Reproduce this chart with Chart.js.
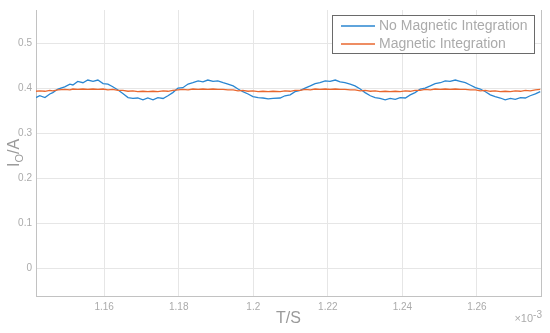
<!DOCTYPE html>
<html>
<head>
<meta charset="utf-8">
<script src="https://cdn.jsdelivr.net/npm/chart.js@4"></script>
<style>
	html, body { margin: 0; padding: 0; background: #fff; }
	#zone { width: 550px; height: 333px; }
</style>
</head>
<body>
<div id="zone"><canvas id="graphique-courant" width="550" height="333"></canvas></div>
<script>
// Temps (x 10^-3 s)
const temps = [
	1.1417, 1.1427, 1.1441, 1.1454, 1.1462, 1.1476, 1.1494, 1.1508, 1.1516, 1.1529,
	1.1543, 1.1556, 1.1570, 1.1583, 1.1597, 1.1610, 1.1623, 1.1637, 1.1650, 1.1664,
	1.1677, 1.1690, 1.1704, 1.1717, 1.1731, 1.1744, 1.1758, 1.1771, 1.1784, 1.1798,
	1.1811, 1.1825, 1.1838, 1.1852, 1.1865, 1.1878, 1.1892, 1.1905, 1.1919, 1.1932,
	1.1946, 1.1959, 1.1972, 1.1986, 1.1999, 1.2013, 1.2026, 1.2040, 1.2053, 1.2072,
	1.2085, 1.2099, 1.2112, 1.2126, 1.2139, 1.2153, 1.2166, 1.2179, 1.2193, 1.2206,
	1.2220, 1.2233, 1.2246, 1.2260, 1.2273, 1.2287, 1.2300, 1.2314, 1.2327, 1.2340,
	1.2354, 1.2367, 1.2381, 1.2394, 1.2408, 1.2421, 1.2434, 1.2448, 1.2461, 1.2475,
	1.2488, 1.2502, 1.2515, 1.2528, 1.2542, 1.2555, 1.2569, 1.2582, 1.2596, 1.2609,
	1.2623, 1.2636, 1.2649, 1.2663, 1.2676, 1.2690, 1.2703, 1.2717, 1.2730, 1.2743,
	1.2757, 1.2770
];

// Courant de sortie sans intégration magnétique (courbe bleue)
const sansIntegration = [
	0.380, 0.384, 0.380, 0.388, 0.391, 0.399, 0.404, 0.410, 0.408, 0.416,
	0.413, 0.419, 0.416, 0.419, 0.411, 0.410, 0.404, 0.397, 0.389, 0.380,
	0.378, 0.379, 0.375, 0.379, 0.375, 0.380, 0.378, 0.384, 0.391, 0.401,
	0.402, 0.410, 0.413, 0.417, 0.415, 0.419, 0.416, 0.417, 0.413, 0.410,
	0.406, 0.399, 0.393, 0.388, 0.382, 0.380, 0.379, 0.377, 0.378, 0.379,
	0.384, 0.386, 0.393, 0.396, 0.401, 0.406, 0.411, 0.413, 0.417, 0.416,
	0.419, 0.415, 0.413, 0.410, 0.406, 0.399, 0.391, 0.384, 0.380, 0.378,
	0.375, 0.378, 0.376, 0.380, 0.379, 0.386, 0.391, 0.399, 0.401, 0.406,
	0.411, 0.413, 0.417, 0.416, 0.419, 0.416, 0.413, 0.408, 0.402, 0.399,
	0.393, 0.386, 0.382, 0.379, 0.375, 0.378, 0.376, 0.380, 0.379, 0.384,
	0.388, 0.393
];

// Courant de sortie avec intégration magnétique (courbe orange)
const avecIntegration = [
	0.394, 0.395, 0.394, 0.396, 0.395, 0.397, 0.398, 0.397, 0.399, 0.398,
	0.399, 0.398, 0.399, 0.398, 0.399, 0.397, 0.398, 0.396, 0.396, 0.394,
	0.395, 0.393, 0.394, 0.393, 0.394, 0.393, 0.395, 0.394, 0.396, 0.397,
	0.398, 0.397, 0.399, 0.398, 0.399, 0.398, 0.399, 0.398, 0.398, 0.397,
	0.397, 0.395, 0.396, 0.394, 0.395, 0.393, 0.394, 0.393, 0.394, 0.393,
	0.395, 0.394, 0.396, 0.396, 0.398, 0.397, 0.399, 0.398, 0.399, 0.398,
	0.399, 0.398, 0.398, 0.397, 0.397, 0.395, 0.396, 0.394, 0.395, 0.393,
	0.394, 0.393, 0.394, 0.393, 0.395, 0.394, 0.396, 0.396, 0.398, 0.397,
	0.399, 0.398, 0.399, 0.398, 0.399, 0.398, 0.398, 0.397, 0.397, 0.395,
	0.396, 0.394, 0.395, 0.393, 0.394, 0.393, 0.395, 0.394, 0.396, 0.395,
	0.397, 0.398
];

const nomsSeries = ['No Magnetic Integration', 'Magnetic Integration'];
const graduationsX = [1.16, 1.18, 1.2, 1.22, 1.24, 1.26];
const graduationsY = [0, 0.1, 0.2, 0.3, 0.4, 0.5];

const couleurTexte = '#ababab';
const couleurGrille = '#e6e6e6';
const couleurAxe = '#c2c2c2';
const police = '"Liberation Sans", Arial, Helvetica, sans-serif';

// Titres des axes, facteur x10^-3, bord droit et légende dessinés à la main
const decor = {
	id: 'decor',
	afterDraw(chart) {
		const ctx = chart.ctx;
		const zone = chart.chartArea;
		ctx.save();

		// bord droit
		ctx.strokeStyle = couleurAxe;
		ctx.lineWidth = 1;
		ctx.beginPath();
		ctx.moveTo(zone.right + 0.5, zone.top);
		ctx.lineTo(zone.right + 0.5, zone.bottom);
		ctx.stroke();

		// titre axe x
		ctx.fillStyle = '#9a9a9a';
		ctx.font = '16px ' + police;
		ctx.textAlign = 'center';
		ctx.textBaseline = 'middle';
		ctx.fillText('T/S', (zone.left + zone.right) / 2, 319);

		// facteur d'échelle
		ctx.fillStyle = couleurTexte;
		ctx.font = '10px ' + police;
		ctx.textAlign = 'right';
		ctx.textBaseline = 'alphabetic';
		ctx.fillText('-3', zone.right + 1, 318);
		const largeurExp = ctx.measureText('-3').width;
		ctx.font = '11px ' + police;
		ctx.fillText('\u00d710', zone.right + 1 - largeurExp, 322);

		// titre axe y : I_O/A
		ctx.translate(14, (zone.top + zone.bottom) / 2);
		ctx.rotate(-Math.PI / 2);
		ctx.fillStyle = '#9a9a9a';
		ctx.textBaseline = 'alphabetic';
		ctx.textAlign = 'left';
		ctx.font = '16px ' + police;
		const lI = ctx.measureText('I').width;
		ctx.font = '11px ' + police;
		const lO = ctx.measureText('O').width;
		ctx.font = '16px ' + police;
		const lA = ctx.measureText('/A').width;
		let x0 = -(lI + lO + lA) / 2;
		ctx.fillText('I', x0, 5);
		ctx.font = '11px ' + police;
		ctx.fillText('O', x0 + lI, 9);
		ctx.font = '16px ' + police;
		ctx.fillText('/A', x0 + lI + lO, 5);
		ctx.setTransform(1, 0, 0, 1, 0, 0);

		// légende
		const bx = 332, by = 15, bw = 202, bh = 38;
		ctx.fillStyle = '#ffffff';
		ctx.fillRect(bx, by, bw, bh);
		ctx.strokeStyle = '#6a6a6a';
		ctx.lineWidth = 1;
		ctx.strokeRect(bx + 0.5, by + 0.5, bw, bh);
		ctx.font = '14px ' + police;
		ctx.textAlign = 'left';
		ctx.textBaseline = 'middle';
		const jeux = chart.data.datasets;
		for (let i = 0; i < jeux.length; i++) {
			const y = by + 11 + i * 18;
			ctx.strokeStyle = jeux[i].borderColor;
			ctx.lineWidth = 1.3;
			ctx.beginPath();
			ctx.moveTo(341, y);
			ctx.lineTo(375, y);
			ctx.stroke();
			ctx.fillStyle = couleurTexte;
			ctx.fillText(jeux[i].label, 379, y);
		}
		ctx.restore();
	}
};

const versPoints = (valeurs) => temps.map((t, i) => ({ x: t, y: valeurs[i] }));
const formatNombre = (v) => String(Number(v.toFixed(3)));

const canvas = document.querySelector('#graphique-courant');
new Chart(canvas, {
	type: 'line',
	data: {
		datasets: [
			{
				label: nomsSeries[0],
				data: versPoints(sansIntegration),
				borderColor: '#2a86d1',
				borderWidth: 1.3,
				pointRadius: 0,
				tension: 0,
				order: 1,
			},
			{
				label: nomsSeries[1],
				data: versPoints(avecIntegration),
				borderColor: '#e9672f',
				borderWidth: 1.3,
				pointRadius: 0,
				tension: 0,
				order: 0,
			},
		],
	},
	options: {
		responsive: false,
		animation: false,
		layout: { padding: { top: 8, right: 9, left: 0, bottom: 0 } },
		plugins: {
			legend: { display: false },
			tooltip: { enabled: false },
		},
		scales: {
			x: {
				type: 'linear',
				min: 1.1417,
				max: 1.2772,
				afterBuildTicks: (s) => { s.ticks = graduationsX.map((v) => ({ value: v })); },
				afterFit: (s) => { s.height = 37; },
				ticks: {
					color: couleurTexte,
					font: { family: police, size: 10 },
					padding: 5,
					maxRotation: 0,
					callback: formatNombre,
				},
				grid: { color: couleurGrille, drawTicks: false },
				border: { color: couleurAxe },
			},
			y: {
				min: -0.062,
				max: 0.575,
				afterBuildTicks: (s) => { s.ticks = graduationsY.map((v) => ({ value: v })); },
				afterFit: (s) => { s.width = 36; },
				ticks: {
					color: couleurTexte,
					font: { family: police, size: 10 },
					padding: 4,
					callback: formatNombre,
				},
				grid: { color: couleurGrille, drawTicks: false },
				border: { color: couleurAxe },
			},
		},
	},
	plugins: [decor],
});
</script>
</body>
</html>
